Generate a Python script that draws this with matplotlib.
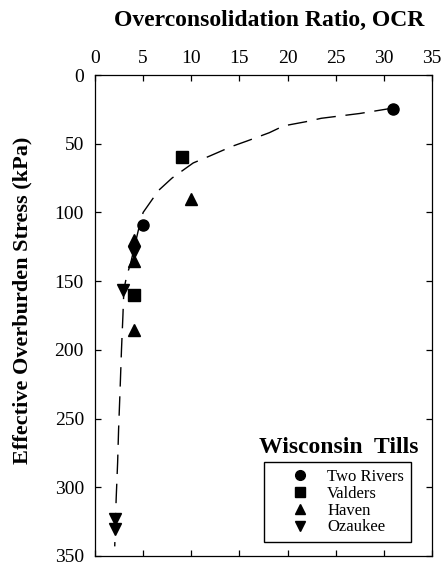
import matplotlib
matplotlib.use("Agg")
import matplotlib.pyplot as plt
from matplotlib.lines import Line2D

# data (OCR, effective overburden stress in kPa)
two_rivers_ocr = [31.0, 5.0]
two_rivers_stress = [25, 109]
valders_ocr = [9.0, 4.05]
valders_stress = [60, 160]
haven_ocr = [10.0, 4.05, 4.05, 4.0]
haven_stress = [90, 120, 135.5, 185.5]
ozaukee_ocr = [4.0, 2.95, 2.1, 2.1]
ozaukee_stress = [129, 156.5, 323, 330]

# hand-fitted trend line
curve_ocr = [31.0, 27.5, 23.5, 21.9, 19.6, 18.1, 15.8, 14.2, 12.0, 10.2, 8.0, 6.6,
             5.0, 4.5, 4.1, 3.7, 3.3, 3.0, 2.9, 2.75, 2.6, 2.45, 2.35, 2.2, 2.1, 2.05]
curve_stress = [24, 28, 31.5, 34, 37, 42, 48, 52, 58.7, 64, 75, 84,
                100, 113, 125, 137, 146, 156, 175, 200, 230, 258, 282, 308, 330, 343]

labels = ['Two Rivers', 'Valders', 'Haven', 'Ozaukee']
markers = ['o', 's', '^', 'v']

plt.rcParams['font.family'] = ['Liberation Serif', 'DejaVu Serif']

fig = plt.figure(figsize=(4.44, 5.65), dpi=100)
ax = fig.add_axes([95 / 444, 1 - 556 / 565, 337 / 444, 481 / 565])

ax.plot(curve_ocr, curve_stress, color='k', lw=1.0, dashes=(14, 7))

series = [(two_rivers_ocr, two_rivers_stress), (valders_ocr, valders_stress),
          (haven_ocr, haven_stress), (ozaukee_ocr, ozaukee_stress)]
for (x, y), m in zip(series, markers):
    ax.plot(x, y, ls='none', marker=m, color='k', ms=8)

ax.set_xlim(0, 35)
ax.set_ylim(350, 0)
ax.set_xticks(range(0, 36, 5))
ax.set_yticks(range(0, 351, 50))
ax.xaxis.tick_top()
ax.tick_params(axis='both', direction='in', length=4, width=0.9, labelsize=14,
               top=True, bottom=True, left=True, right=True,
               labeltop=True, labelbottom=False, labelleft=True, labelright=False)
ax.tick_params(axis='x', pad=6)
ax.tick_params(axis='y', pad=8)
for sp in ax.spines.values():
    sp.set_linewidth(0.9)

fig.text(269 / 444, 1 - 20 / 565, 'Overconsolidation Ratio, OCR', ha='center', va='center',
         fontsize=17, fontweight='bold')
fig.text(22 / 444, 1 - 300 / 565, 'Effective Overburden Stress (kPa)', ha='center', va='center',
         rotation=90, fontsize=16, fontweight='bold')

handles = [Line2D([], [], ls='none', marker=m, color='k', ms=7) for m in markers]
leg = ax.legend(handles, labels, loc='upper left', bbox_to_anchor=(0.501, 0.195),
                borderaxespad=0, fontsize=12, frameon=True, fancybox=False,
                edgecolor='k', framealpha=1, handlelength=3.5, handletextpad=-0.1,
                labelspacing=0.05, borderpad=0.4)
leg.get_frame().set_linewidth(1.0)
ax.text(0.724, 0.226, 'Wisconsin  Tills', transform=ax.transAxes, ha='center', va='center',
        fontsize=17, fontweight='bold')

fig.savefig('out.png', dpi=100)
